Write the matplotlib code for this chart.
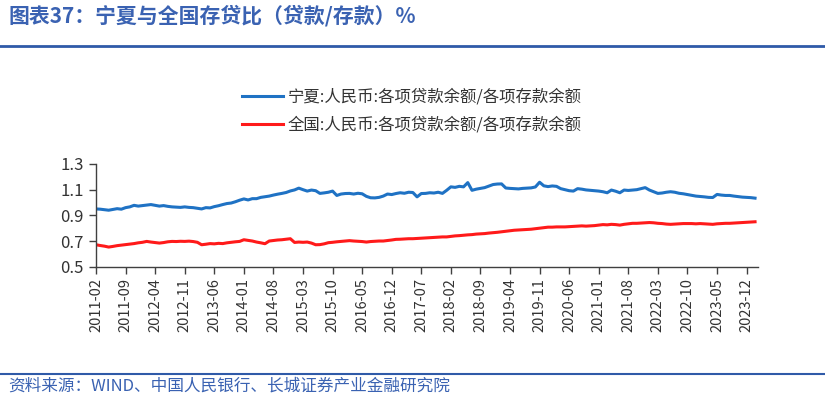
import matplotlib
matplotlib.use("Agg")
import matplotlib.pyplot as plt
import numpy as np
import pandas as pd

plt.rcParams['font.family'] = ['Noto Sans CJK SC', 'DejaVu Sans']

start_month = "2011-02"

ningxia = [
    0.950, 0.948, 0.944, 0.940, 0.946, 0.952, 0.948, 0.960, 0.966, 0.978, 0.972, 0.976,
    0.980, 0.984, 0.978, 0.972, 0.976, 0.970, 0.966, 0.964, 0.962, 0.966, 0.962, 0.960,
    0.955, 0.950, 0.960, 0.958, 0.968, 0.975, 0.984, 0.992, 0.996, 1.006, 1.018, 1.028,
    1.020, 1.030, 1.030, 1.040, 1.045, 1.050, 1.058, 1.065, 1.071, 1.078, 1.090, 1.098,
    1.112, 1.100, 1.089, 1.097, 1.092, 1.071, 1.075, 1.080, 1.089, 1.055, 1.066, 1.070,
    1.071, 1.066, 1.072, 1.068, 1.048, 1.037, 1.036, 1.040, 1.050, 1.066, 1.062, 1.070,
    1.076, 1.072, 1.080, 1.078, 1.044, 1.070, 1.071, 1.076, 1.074, 1.080, 1.071, 1.095,
    1.122, 1.118, 1.126, 1.122, 1.155, 1.095, 1.104, 1.110, 1.116, 1.128, 1.140, 1.144,
    1.145, 1.113, 1.110, 1.108, 1.106, 1.110, 1.112, 1.114, 1.121, 1.158, 1.130, 1.124,
    1.129, 1.126, 1.108, 1.100, 1.092, 1.089, 1.108, 1.104, 1.098, 1.095, 1.092, 1.089,
    1.084, 1.076, 1.097, 1.088, 1.076, 1.097, 1.094, 1.097, 1.100, 1.108, 1.116, 1.097,
    1.084, 1.071, 1.074, 1.080, 1.084, 1.080, 1.072, 1.068, 1.062, 1.056, 1.050, 1.047,
    1.044, 1.040, 1.039, 1.063, 1.058, 1.055, 1.055, 1.050, 1.046, 1.042, 1.040, 1.038,
    1.034,
]

national = [
    0.671, 0.665, 0.660, 0.653, 0.658, 0.664, 0.668, 0.672, 0.676, 0.680, 0.686, 0.690,
    0.697, 0.692, 0.688, 0.684, 0.688, 0.694, 0.697, 0.696, 0.698, 0.697, 0.699, 0.696,
    0.690, 0.671, 0.675, 0.680, 0.678, 0.682, 0.680, 0.686, 0.690, 0.694, 0.697, 0.710,
    0.705, 0.700, 0.692, 0.686, 0.679, 0.700, 0.704, 0.708, 0.710, 0.714, 0.718, 0.689,
    0.692, 0.690, 0.692, 0.684, 0.671, 0.672, 0.678, 0.687, 0.690, 0.694, 0.697, 0.700,
    0.703, 0.700, 0.698, 0.696, 0.692, 0.696, 0.698, 0.700, 0.700, 0.704, 0.708, 0.713,
    0.714, 0.716, 0.718, 0.718, 0.720, 0.722, 0.724, 0.726, 0.728, 0.730, 0.732, 0.732,
    0.736, 0.740, 0.742, 0.745, 0.748, 0.750, 0.754, 0.756, 0.758, 0.762, 0.765, 0.768,
    0.772, 0.776, 0.780, 0.784, 0.786, 0.788, 0.790, 0.792, 0.796, 0.800, 0.804, 0.808,
    0.808, 0.810, 0.810, 0.810, 0.812, 0.814, 0.816, 0.818, 0.816, 0.818, 0.820, 0.824,
    0.828, 0.826, 0.830, 0.828, 0.824, 0.830, 0.834, 0.838, 0.838, 0.840, 0.842, 0.844,
    0.842, 0.838, 0.836, 0.832, 0.830, 0.832, 0.834, 0.836, 0.836, 0.836, 0.834, 0.836,
    0.834, 0.832, 0.830, 0.834, 0.836, 0.838, 0.838, 0.840, 0.842, 0.844, 0.846, 0.848,
    0.850,
]

series_labels = ["宁夏:人民币:各项贷款余额/各项存款余额", "全国:人民币:各项贷款余额/各项存款余额"]
y_ticks = [0.5, 0.7, 0.9, 1.1, 1.3]
title = "图表37：宁夏与全国存贷比（贷款/存款）%"
source = "资料来源：WIND、中国人民银行、长城证券产业金融研究院"

months = pd.date_range(start_month, periods=len(ningxia), freq="MS")
x = np.arange(len(months))
tick_idx = x[::7]
tick_labels = [months[i].strftime("%Y-%m") for i in tick_idx]

W, H = 825, 399
fig = plt.figure(figsize=(W / 100, H / 100), dpi=100)
fig.patch.set_facecolor("white")

ax = fig.add_axes([96 / W, 1 - 266.7 / H, (758 - 96) / W, (266.7 - 164) / H])
l1, = ax.plot(x, ningxia, color="#1F72C4", lw=2.2, solid_joinstyle="round")
l2, = ax.plot(x, national, color="#FF1A1A", lw=2.2, solid_joinstyle="round")

ax.set_xlim(0, 156.7)
ax.set_ylim(0.5, 1.3)
ax.set_yticks(y_ticks)
ax.set_yticklabels([f"{v:.1f}" for v in y_ticks])
ax.set_xticks(tick_idx)
ax.set_xticklabels(tick_labels, rotation=90)
for s in ["top", "right"]:
    ax.spines[s].set_visible(False)
for s in ["left", "bottom"]:
    ax.spines[s].set_color("#404040")
    ax.spines[s].set_linewidth(1.0)
ax.tick_params(axis="y", length=5, width=1, color="#404040", labelsize=12,
               labelcolor="#333333", pad=4)
ax.tick_params(axis="x", length=5, width=1, color="#404040", labelsize=10.5,
               labelcolor="#333333", pad=3)

fig.legend([l1, l2], series_labels, loc="center", bbox_to_anchor=(412 / W, 1 - 111 / H),
           frameon=False, fontsize=11.8, handlelength=2.5, handletextpad=0.3,
           labelspacing=0.7, labelcolor="#333333")

fig.text(8 / W, 1 - 16 / H, title, fontsize=15, color="#3A62B2", ha="left",
         va="center", style="italic", weight="bold")
fig.add_artist(plt.Line2D([0, 1], [1 - 46 / H, 1 - 46 / H], color="#2F5AA8", lw=2.0,
                          transform=fig.transFigure))
fig.add_artist(plt.Line2D([0, 1], [1 - 374 / H, 1 - 374 / H], color="#2F5AA8", lw=1.5,
                          transform=fig.transFigure))
fig.text(8 / W, 1 - 386 / H, source, fontsize=12, color="#3A62B2", ha="left",
         va="center", style="italic")

fig.savefig("out.png", dpi=100, facecolor="white")
